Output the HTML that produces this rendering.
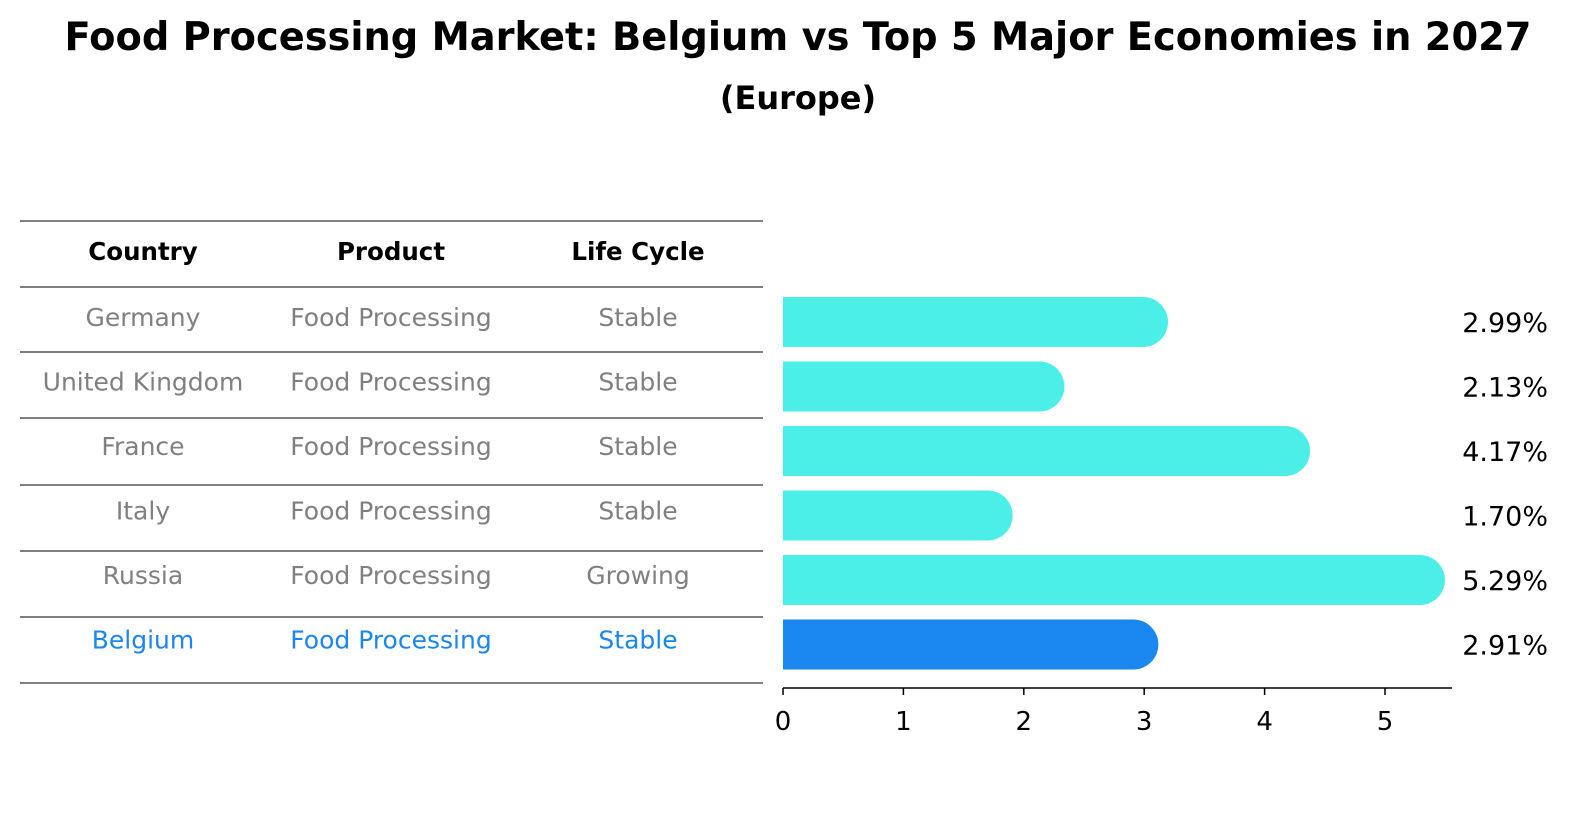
<!DOCTYPE html>
<html><head><meta charset="utf-8"><style>
body{margin:0;background:#fff;font-family:"Liberation Sans","DejaVu Sans",sans-serif;}
svg text{font-family:"DejaVu Sans","Liberation Sans",sans-serif;}
</style></head><body>
<svg width="1586" height="823" xmlns="http://www.w3.org/2000/svg" id="chart">
<text x="798" y="50" text-anchor="middle" font-size="39" font-weight="bold" textLength="1467" lengthAdjust="spacingAndGlyphs">Food Processing Market: Belgium vs Top 5 Major Economies in 2027</text>
<text x="798" y="109" text-anchor="middle" font-size="32" font-weight="bold">(Europe)</text>
<g id="table"></g>
<g id="bars"></g>
</svg>
<script>
const countries=["Germany","United Kingdom","France","Italy","Russia","Belgium"];
const products=["Food Processing","Food Processing","Food Processing","Food Processing","Food Processing","Food Processing"];
const lifeCycles=["Stable","Stable","Stable","Stable","Growing","Stable"];
const values=[2.99,2.13,4.17,1.70,5.29,2.91];
const ticks=[0,1,2,3,4,5];
const NS="http://www.w3.org/2000/svg";
function mk(tag,attrs,parent,txt){const e=document.createElementNS(NS,tag);for(const k in attrs)e.setAttribute(k,attrs[k]);if(txt!==undefined)e.textContent=txt;parent.appendChild(e);return e;}
const tbl=document.getElementById('table');
const lineYs=[221,287,352,418,485,551,617,683];
lineYs.forEach(y=>{const l=mk('line',{x1:20,x2:763,y1:y,y2:y,stroke:'#000','stroke-width':1},tbl);

});
const colX=[143,391,638];
["Country","Product","Life Cycle"].forEach((h,i)=>{const t=mk('text',{x:colX[i],y:260,'text-anchor':'middle','font-size':24.5,'font-weight':'bold'},tbl,h);

});
const x0=783,pxPer=120.4,axisY=688;
const xs=v=>x0+v*pxPer;
const rowY=i=>322+i*64.5;
const bars=document.getElementById('bars');
countries.forEach((c,i)=>{
 const hi=c==="Belgium";const col=hi?'#1a86f0':'#808080';
 [c,products[i],lifeCycles[i]].forEach((s,j)=>{const t=mk('text',{x:colX[j],y:rowY(i)+4,'text-anchor':'middle','font-size':25,fill:col},tbl,s);
 
 });
 const r=25,w=xs(values[i])-x0;
 const p=mk('path',{d:`M${x0},${rowY(i)-r} H${x0+w} A${r},${r} 0 0 1 ${x0+w},${rowY(i)+r} H${x0} Z`,fill:hi?'#1a86f0':'#4ceee8'},bars);
 
 
 const t=mk('text',{x:1548,y:rowY(i)+10,'text-anchor':'end','font-size':27},bars,values[i].toFixed(2)+'%');
 
 
});
const ax=mk('line',{x1:x0,x2:1452,y1:axisY,y2:axisY,stroke:'#000','stroke-width':1.5},bars);


ticks.forEach(v=>{const l=mk('line',{x1:xs(v),x2:xs(v),y1:axisY,y2:axisY+7,stroke:'#000','stroke-width':1.5},bars);


const t=mk('text',{x:xs(v),y:730,'text-anchor':'middle','font-size':26},bars,String(v));

});
</script>
</body></html>
